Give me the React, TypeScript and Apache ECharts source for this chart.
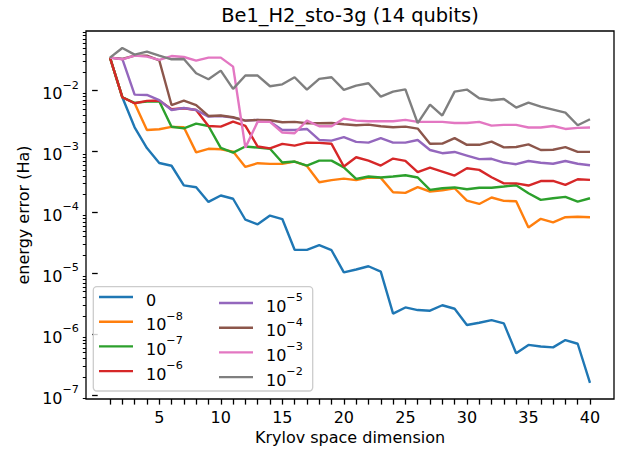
import React, { useEffect, useRef } from 'react';
import * as echarts from 'echarts';

const krylovDims = [1, 2, 3, 4, 5, 6, 7, 8, 9, 10, 11, 12, 13, 14, 15, 16, 17, 18, 19, 20,
  21, 22, 23, 24, 25, 26, 27, 28, 29, 30, 31, 32, 33, 34, 35, 36, 37, 38, 39, 40];

const seriesNames = ['0', '1e-8', '1e-7', '1e-6', '1e-5', '1e-4', '1e-3', '1e-2'];
const seriesColors = ['#1f77b4', '#ff7f0e', '#2ca02c', '#d62728', '#9467bd', '#8c564b', '#e377c2', '#7f7f7f'];

const err0 = [0.0347, 7.8e-3, 2.5e-3, 1.14e-3, 6.5e-4, 5.85e-4, 2.78e-4, 2.6e-4, 1.49e-4, 1.9e-4,
  1.68e-4, 7.6e-5, 6.4e-5, 8.9e-5, 7.8e-5, 2.45e-5, 2.43e-5, 2.9e-5, 2.4e-5, 1.04e-5,
  1.16e-5, 1.31e-5, 1.07e-5, 2.18e-6, 2.76e-6, 2.5e-6, 2.44e-6, 3.0e-6, 2.63e-6, 1.42e-6,
  1.55e-6, 1.71e-6, 1.51e-6, 4.9e-7, 6.7e-7, 6.3e-7, 6.1e-7, 8.05e-7, 7.0e-7, 1.6e-7];
const err1e8 = [0.0348, 7.8e-3, 6.2e-3, 2.26e-3, 2.32e-3, 2.54e-3, 2.5e-3, 9.7e-4, 1.11e-3, 1.09e-3,
  1.0e-3, 5.6e-4, 6.44e-4, 6.28e-4, 6.28e-4, 6.85e-4, 5.8e-4, 3.14e-4, 3.39e-4, 3.6e-4,
  3.39e-4, 3.75e-4, 3.7e-4, 2.15e-4, 2.1e-4, 2.6e-4, 2.21e-4, 2.32e-4, 2.5e-4, 1.57e-4,
  1.38e-4, 1.76e-4, 1.55e-4, 1.53e-4, 5.66e-5, 7.86e-5, 6.9e-5, 8.37e-5, 8.5e-5, 8.37e-5];
const err1e7 = [0.0348, 7.8e-3, 6.3e-3, 6.6e-3, 6.7e-3, 2.55e-3, 2.4e-3, 2.88e-3, 2.63e-3, 1.15e-3,
  9.6e-4, 1.21e-3, 1.16e-3, 1.11e-3, 6.6e-4, 6.85e-4, 5.9e-4, 7.1e-4, 7.1e-4, 5.5e-4,
  3.56e-4, 3.89e-4, 3.75e-4, 3.89e-4, 4.09e-4, 3.75e-4, 2.35e-4, 2.5e-4, 2.58e-4, 2.41e-4,
  2.55e-4, 2.55e-4, 2.67e-4, 2.8e-4, 2.07e-4, 1.61e-4, 1.71e-4, 1.8e-4, 1.51e-4, 1.71e-4];
const err1e6 = [0.0348, 7.8e-3, 6.2e-3, 6.8e-3, 6.9e-3, 4.95e-3, 5.14e-3, 4.82e-3, 2.63e-3, 2.57e-3,
  3.1e-3, 2.63e-3, 1.21e-3, 1.13e-3, 1.34e-3, 1.25e-3, 1.4e-3, 1.39e-3, 1.34e-3, 5.68e-4,
  8.07e-4, 7.1e-4, 5.9e-4, 7.67e-4, 7.03e-4, 4.58e-4, 5.46e-4, 4.7e-4, 4.04e-4, 5.33e-4,
  5.0e-4, 3.79e-4, 3.0e-4, 3.0e-4, 2.77e-4, 3.28e-4, 3.3e-4, 2.83e-4, 3.51e-4, 3.43e-4];
const err1e5 = [0.0348, 0.0331, 8.6e-3, 8.5e-3, 7.0e-3, 4.82e-3, 5.2e-3, 4.82e-3, 3.75e-3, 3.84e-3,
  3.61e-3, 3.22e-3, 3.31e-3, 3.1e-3, 2.26e-3, 2.26e-3, 2.35e-3, 1.55e-3, 1.51e-3, 1.72e-3,
  1.44e-3, 1.4e-3, 1.66e-3, 1.4e-3, 1.4e-3, 1.55e-3, 1.06e-3, 9.4e-4, 9.86e-4, 8.6e-4,
  7.5e-4, 7.6e-4, 6.6e-4, 6.2e-4, 7.0e-4, 6.55e-4, 6.3e-4, 7.0e-4, 6.3e-4, 5.97e-4];
const err1e4 = [0.0348, 0.0331, 0.0376, 0.0376, 0.0315, 5.8e-3, 6.86e-3, 5.8e-3, 3.84e-3, 3.9e-3,
  3.66e-3, 3.22e-3, 3.31e-3, 3.27e-3, 3.03e-3, 3.07e-3, 2.92e-3, 2.92e-3, 2.95e-3, 2.81e-3,
  2.7e-3, 2.77e-3, 2.6e-3, 2.51e-3, 2.57e-3, 2.38e-3, 1.34e-3, 1.35e-3, 1.66e-3, 1.29e-3,
  1.29e-3, 1.46e-3, 1.17e-3, 1.19e-3, 1.31e-3, 1.06e-3, 1.07e-3, 1.18e-3, 9.9e-4, 9.9e-4];
const err1e3 = [0.0348, 0.0327, 0.0376, 0.0362, 0.0319, 0.037, 0.0357, 0.0311, 0.0348, 0.0348,
  0.0248, 1.16e-3, 3.1e-3, 3.07e-3, 2.05e-3, 2.0e-3, 3.22e-3, 2.6e-3, 2.6e-3, 3.48e-3,
  3.22e-3, 3.14e-3, 3.14e-3, 3.14e-3, 3.31e-3, 3.07e-3, 3.07e-3, 3.07e-3, 2.95e-3, 2.95e-3,
  3.07e-3, 2.67e-3, 2.74e-3, 2.74e-3, 2.48e-3, 2.48e-3, 2.63e-3, 2.35e-3, 2.45e-3, 2.48e-3];
const err1e2 = [0.0348, 0.0502, 0.039, 0.0437, 0.0376, 0.0327, 0.0331, 0.0193, 0.0154, 0.0213,
  0.0107, 0.0177, 0.0177, 0.0118, 0.0127, 0.0166, 0.0104, 0.0156, 0.0166, 0.0103,
  0.0121, 0.0132, 7.98e-3, 9.64e-3, 0.0105, 2.92e-3, 5.9e-3, 3.9e-3, 9.64e-3, 0.0104,
  7.5e-3, 6.95e-3, 7.31e-3, 5.27e-3, 6.36e-3, 5.47e-3, 4.89e-3, 4.36e-3, 2.7e-3, 3.39e-3];

const seriesValues = [err0, err1e8, err1e7, err1e6, err1e5, err1e4, err1e3, err1e2];

const xTickValues = krylovDims;
const xLabelValues = [5, 10, 15, 20, 25, 30, 35, 40];
const yMajorValues = [1e-7, 1e-6, 1e-5, 1e-4, 1e-3, 1e-2];
const yMinorValues = [
  9e-8,
  2e-7, 3e-7, 4e-7, 5e-7, 6e-7, 7e-7, 8e-7, 9e-7,
  2e-6, 3e-6, 4e-6, 5e-6, 6e-6, 7e-6, 8e-6, 9e-6,
  2e-5, 3e-5, 4e-5, 5e-5, 6e-5, 7e-5, 8e-5, 9e-5,
  2e-4, 3e-4, 4e-4, 5e-4, 6e-4, 7e-4, 8e-4, 9e-4,
  2e-3, 3e-3, 4e-3, 5e-3, 6e-3, 7e-3, 8e-3, 9e-3,
  2e-2, 3e-2, 4e-2, 5e-2, 6e-2, 7e-2, 8e-2, 9e-2,
];

const FONT = 'DejaVu Sans';
const Y_MIN = 8.67e-8;
const Y_MAX = 0.0953;

const rich = {
  b: { fontSize: 16, lineHeight: 22, verticalAlign: 'bottom', color: '#000', fontFamily: FONT },
  s: { fontSize: 11.2, lineHeight: 12, verticalAlign: 'top', color: '#000', fontFamily: FONT },
};

function powLabel(exp: number) {
  return '{b|10}{s|\u2212' + Math.abs(exp) + '}';
}

function legendLabel(name: string) {
  if (name === '0') return '{b|0}';
  const exp = parseInt(name.split('e')[1], 10);
  return powLabel(exp);
}

function makeLegend(names: string[], left: number) {
  return {
    data: names,
    orient: 'vertical',
    left,
    top: 292,
    padding: 0,
    itemWidth: 34,
    itemHeight: 2.4,
    itemGap: 2.7,
    icon: 'rect',
    itemStyle: { borderWidth: 0 },
    selectedMode: false,
    formatter: legendLabel,
    textStyle: { fontSize: 16, color: '#000', fontFamily: FONT, padding: [0, 0, 0, 8], rich },
  };
}

export default function App() {
  const ref = useRef<HTMLDivElement>(null);
  useEffect(() => {
    if (!ref.current) return;
    const chart = echarts.init(ref.current, null, { renderer: 'svg' });
    const option = {
      animation: false,
      backgroundColor: '#ffffff',
      color: seriesColors,
      textStyle: { fontFamily: FONT },
      grid: {
        left: 86, top: 31, right: 10, bottom: 53,
        show: true, borderColor: '#000', borderWidth: 1.3,
        containLabel: false, outerBoundsMode: 'none',
      },
      xAxis: {
        type: 'value', min: -0.95, max: 41.95,
        name: 'Krylov space dimension', nameLocation: 'middle', nameGap: 30,
        nameTextStyle: { fontSize: 16, color: '#000', fontFamily: FONT },
        axisLine: { show: false },
        splitLine: { show: false },
        axisTick: { show: true, customValues: xTickValues, length: 5.6, lineStyle: { color: '#000', width: 1.3 } },
        axisLabel: { customValues: xLabelValues, fontSize: 16, color: '#000', margin: 10, fontFamily: FONT },
      },
      yAxis: [
        {
          type: 'log', min: Y_MIN, max: Y_MAX, position: 'left',
          name: 'energy error (Ha)', nameLocation: 'middle', nameGap: 54, nameRotate: 90,
          nameTextStyle: { fontSize: 16, color: '#000', fontFamily: FONT },
          axisLine: { show: false },
          splitLine: { show: false },
          minorTick: { show: false },
          axisTick: { show: true, customValues: yMajorValues, length: 5.6, lineStyle: { color: '#000', width: 1.3 } },
          axisLabel: {
            customValues: yMajorValues, margin: 7,
            formatter: (v: number) => powLabel(Math.round(Math.log10(v))),
            rich,
          },
        },
        {
          type: 'log', min: Y_MIN, max: Y_MAX, position: 'left',
          axisLine: { show: false },
          splitLine: { show: false },
          axisLabel: { show: false },
          axisTick: { show: true, customValues: yMinorValues, length: 3.2, lineStyle: { color: '#000', width: 1 } },
        },
      ],
      legend: [makeLegend(seriesNames.slice(0, 4), 99), makeLegend(seriesNames.slice(4), 219)],
      graphic: [
        {
          type: 'text', x: 350, y: 15, z: 10,
          style: {
            text: 'Be1_H2_sto-3g (14 qubits)', fontSize: 19.4, fontFamily: FONT, fill: '#000',
            align: 'center', verticalAlign: 'middle',
          },
        },
        {
          type: 'rect', z: 3,
          shape: { x: 93.3, y: 286.7, width: 219.4, height: 104.3, r: 3.5 },
          style: { fill: 'rgba(255,255,255,0.8)', stroke: '#cccccc', lineWidth: 1.3 },
        },
      ],
      series: seriesNames.map((name, i) => ({
        type: 'line',
        name,
        data: krylovDims.map((k, j) => [k, seriesValues[i][j]]),
        showSymbol: false,
        symbol: 'none',
        clip: true,
        lineStyle: { width: 2.4, color: seriesColors[i] },
        itemStyle: { color: seriesColors[i] },
        emphasis: { disabled: true },
      })),
    };
    chart.setOption(option as any);
    return () => chart.dispose();
  }, []);
  return (
    <div
      ref={ref}
      style={{ position: 'fixed', left: 0, top: 0, width: 624, height: 452, background: '#fff' }}
    />
  );
}
